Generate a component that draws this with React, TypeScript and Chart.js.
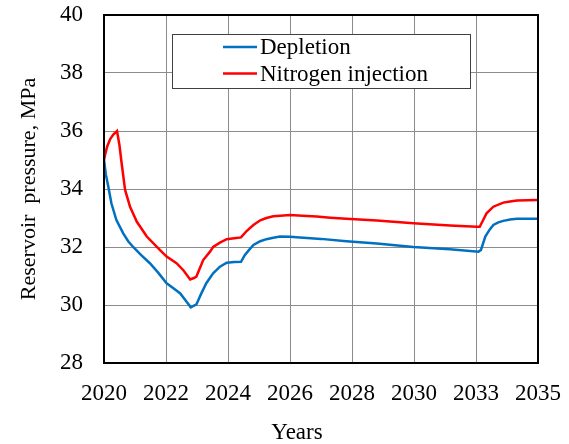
import React, { useEffect, useRef } from "react";
import { Chart, registerables } from "chart.js";

Chart.register(...registerables);

// x positions are in axis-interval units (0 = 2020 ... 7 = 2035, label per gridline)
const xTickLabels = ["2020", "2022", "2024", "2026", "2028", "2030", "2033", "2035"];
const yTicks = { min: 28, max: 40, step: 2 };

const depletionX = [0, 0.03, 0.07, 0.12, 0.2, 0.31, 0.39, 0.47, 0.6, 0.74, 0.88, 1.01, 1.12, 1.23, 1.32, 1.4, 1.49, 1.57, 1.65, 1.76, 1.87, 1.98, 2.1, 2.21, 2.27, 2.34, 2.41, 2.52, 2.62, 2.73, 2.84, 3.0, 3.16, 3.5, 3.91, 4.4, 4.99, 5.58, 6.04, 6.08, 6.15, 6.22, 6.28, 6.36, 6.44, 6.55, 6.66, 7.0];
const depletionY = [35.0, 34.5, 34.08, 33.5, 32.93, 32.47, 32.2, 32.0, 31.72, 31.44, 31.1, 30.75, 30.58, 30.4, 30.15, 29.92, 30.02, 30.4, 30.75, 31.09, 31.32, 31.46, 31.48, 31.49, 31.72, 31.9, 32.07, 32.2, 32.27, 32.32, 32.36, 32.35, 32.33, 32.28, 32.2, 32.12, 32.0, 31.92, 31.84, 31.9, 32.36, 32.6, 32.76, 32.85, 32.9, 32.95, 32.97, 32.97];

const nitrogenX = [0, 0.02, 0.05, 0.1, 0.15, 0.21, 0.25, 0.285, 0.34, 0.42, 0.53, 0.69, 0.9, 1.01, 1.17, 1.28, 1.39, 1.45, 1.49, 1.6, 1.71, 1.76, 1.87, 1.98, 2.1, 2.21, 2.3, 2.41, 2.52, 2.62, 2.73, 2.84, 3.0, 3.2, 3.43, 3.65, 3.91, 4.4, 4.99, 5.58, 6.01, 6.06, 6.12, 6.17, 6.28, 6.44, 6.55, 6.66, 7.0];
const nitrogenY = [35.0, 35.2, 35.46, 35.72, 35.88, 36.0, 35.5, 34.88, 33.97, 33.39, 32.87, 32.36, 31.9, 31.67, 31.44, 31.2, 30.88, 30.93, 30.98, 31.55, 31.84, 32.0, 32.15, 32.27, 32.3, 32.33, 32.55, 32.76, 32.92, 33.0, 33.06, 33.08, 33.1, 33.08, 33.05, 33.01, 32.97, 32.91, 32.82, 32.74, 32.7, 32.7, 32.95, 33.16, 33.39, 33.53, 33.57, 33.6, 33.62];

const seriesLabels = ["Depletion", "Nitrogen injection"];
const seriesColors = ["#0070C0", "#FF0000"];

const FONT = "Liberation Serif";

Chart.defaults.font.family = FONT;
Chart.defaults.color = "#000";

const toPoints = (xs: number[], ys: number[]) => xs.map((x, i) => ({ x, y: ys[i] }));

const framePlugin = {
  id: "frameAndExtras",
  afterDraw(chart: any) {
    const { ctx, chartArea } = chart;
    const { left, top, right, bottom } = chartArea;
    ctx.save();
    // frame
    ctx.strokeStyle = "#000";
    ctx.lineWidth = 2;
    ctx.strokeRect(left, top, right - left, bottom - top);

    // legend box
    const bx = 172, by = 34, bw = 298, bh = 54;
    ctx.fillStyle = "#fff";
    ctx.fillRect(bx, by, bw, bh);
    ctx.strokeStyle = "#404040";
    ctx.lineWidth = 1;
    ctx.strokeRect(bx + 0.5, by + 0.5, bw, bh);
    ctx.font = `23px "${FONT}"`;
    ctx.textBaseline = "middle";
    ctx.textAlign = "left";
    chart.data.datasets.forEach((ds: any, i: number) => {
      const yy = 47 + i * 26.5;
      ctx.strokeStyle = ds.borderColor;
      ctx.lineWidth = 2.5;
      ctx.beginPath();
      ctx.moveTo(223, yy);
      ctx.lineTo(257, yy);
      ctx.stroke();
      ctx.fillStyle = "#000";
      ctx.fillText(ds.label, 260, yy + 1);
    });

    // x-axis title
    ctx.font = `23px "${FONT}"`;
    ctx.textAlign = "center";
    ctx.textBaseline = "middle";
    ctx.fillStyle = "#000";
    ctx.fillText("Years", 297, 433);
    ctx.restore();
  },
};

export default function App() {
  const ref = useRef<HTMLCanvasElement | null>(null);
  useEffect(() => {
    if (!ref.current) return;
    const chart = new Chart(ref.current, {
      type: "line",
      data: {
        datasets: [
          {
            label: seriesLabels[0],
            data: toPoints(depletionX, depletionY),
            borderColor: seriesColors[0],
            backgroundColor: seriesColors[0],
            borderWidth: 2.5,
            pointRadius: 0,
            tension: 0,
          },
          {
            label: seriesLabels[1],
            data: toPoints(nitrogenX, nitrogenY),
            borderColor: seriesColors[1],
            backgroundColor: seriesColors[1],
            borderWidth: 2.5,
            pointRadius: 0,
            tension: 0,
          },
        ],
      },
      options: {
        responsive: false,
        animation: false,
        layout: { padding: { left: 0, top: 15, right: 31, bottom: 0 } },
        plugins: { legend: { display: false }, tooltip: { enabled: false } },
        scales: {
          x: {
            type: "linear",
            min: 0,
            max: xTickLabels.length - 1,
            border: { display: false },
            grid: { color: "#8c8c8c", lineWidth: 1, drawTicks: false },
            ticks: {
              stepSize: 1,
              autoSkip: false,
              maxRotation: 0,
              padding: 17,
              color: "#000",
              font: { family: FONT, size: 23 },
              callback: (v: any) => xTickLabels[Math.round(Number(v))] ?? "",
            },
            afterFit: (s: any) => {
              s.height = 81;
              s.paddingLeft = 0;
              s.paddingRight = 0;
              s.paddingTop = 0;
              s.paddingBottom = 0;
            },
          },
          y: {
            type: "linear",
            min: yTicks.min,
            max: yTicks.max,
            border: { display: false },
            grid: { color: "#8c8c8c", lineWidth: 1, drawTicks: false },
            ticks: {
              stepSize: yTicks.step,
              padding: 21,
              color: "#000",
              font: { family: FONT, size: 23 },
            },
            title: {
              display: true,
              text: "Reservoir  pressure, MPa",
              color: "#000",
              font: { family: FONT, size: 22 },
              padding: { top: 16, bottom: 0 },
            },
            afterFit: (s: any) => {
              s.width = 104;
              s.paddingLeft = 0;
              s.paddingRight = 0;
              s.paddingTop = 0;
              s.paddingBottom = 0;
            },
          },
        },
      },
      plugins: [framePlugin],
    });
    return () => chart.destroy();
  }, []);
  return (
    <div style={{ position: "absolute", left: 0, top: 0, width: 569, height: 444 }}>
      <canvas ref={ref} width={569} height={444} style={{ width: 569, height: 444 }} />
    </div>
  );
}
